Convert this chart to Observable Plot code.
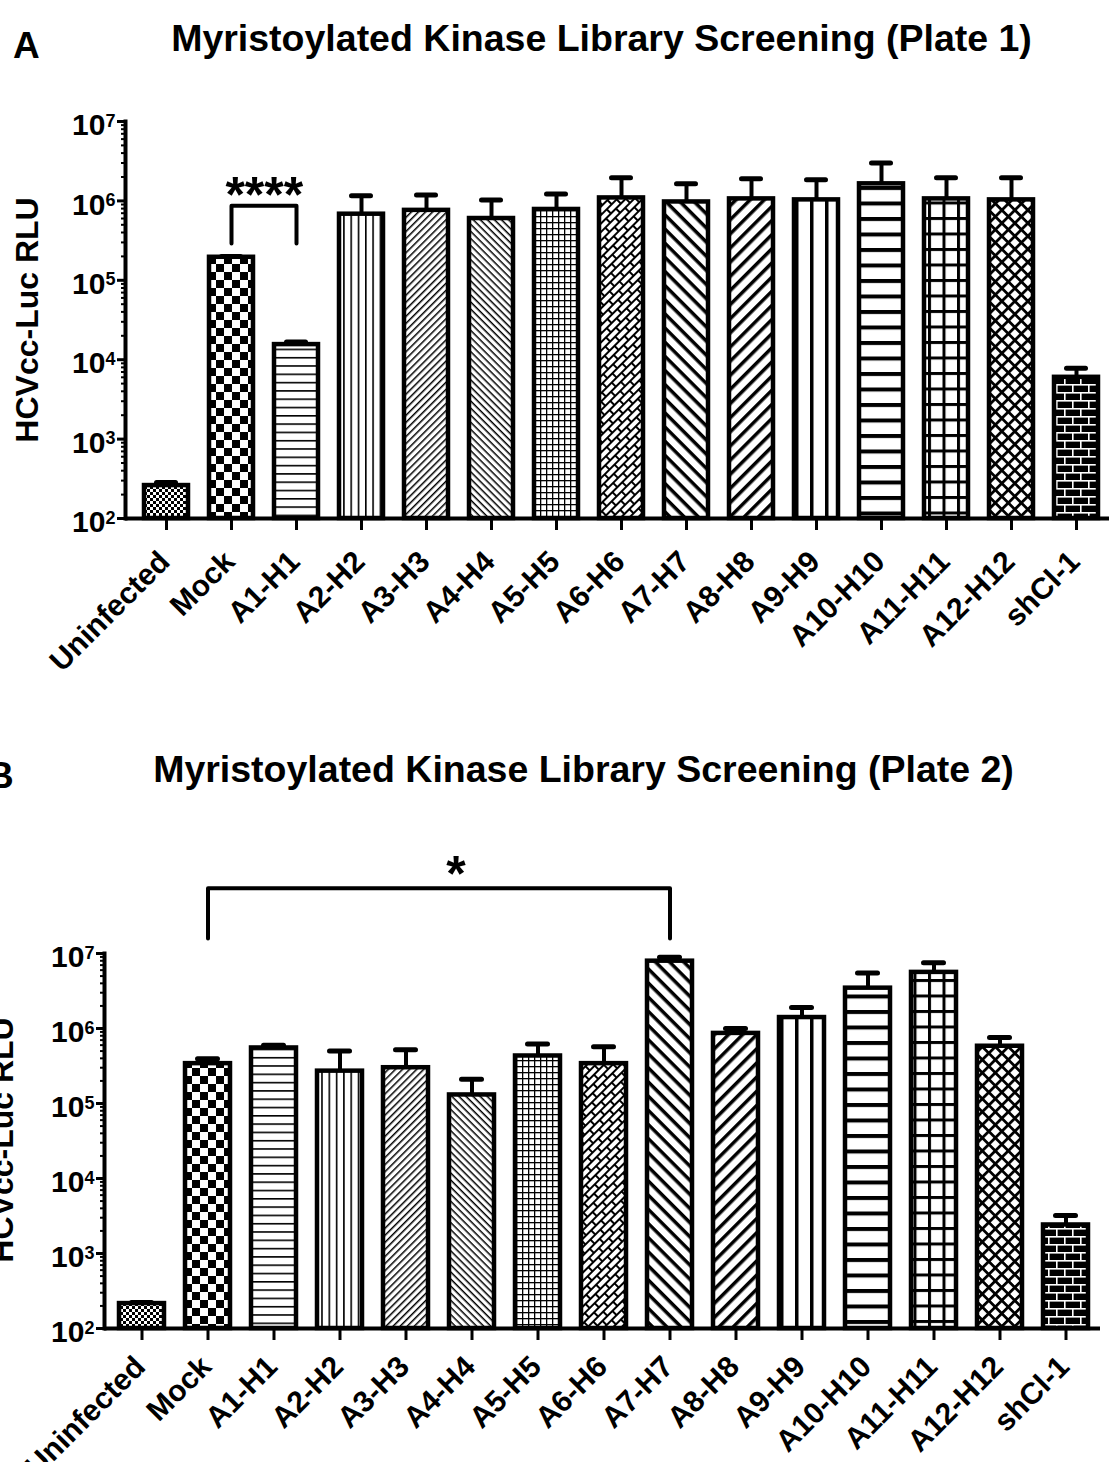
<!DOCTYPE html>
<html>
<head>
<meta charset="utf-8">
<script src="https://cdn.jsdelivr.net/npm/d3@7"></script>
<script src="https://cdn.jsdelivr.net/npm/@observablehq/plot@0.6"></script>
<style>
  html, body { margin: 0; padding: 0; background: #fff; }
  body { width: 1109px; height: 1462px; overflow: hidden; position: relative;
         font-family: "Liberation Sans", Arial, sans-serif; }
  .panel { position: absolute; left: 0; }
  #overlay { position: absolute; left: 0; top: 0; pointer-events: none; overflow: visible; }
</style>
</head>
<body>
<svg width="0" height="0" style="position:absolute">
  <defs>
    <pattern id="pFineChecker" patternUnits="userSpaceOnUse" width="6" height="6">
      <rect width="6" height="6" fill="#fff"/><rect width="3" height="3"/><rect x="3" y="3" width="3" height="3"/>
    </pattern>
    <pattern id="pChecker" patternUnits="userSpaceOnUse" width="16" height="16">
      <rect width="16" height="16" fill="#fff"/><rect width="8" height="8"/><rect x="8" y="8" width="8" height="8"/>
    </pattern>
    <pattern id="pHThin" patternUnits="userSpaceOnUse" width="8" height="8.3">
      <rect width="8" height="8.3" fill="#fff"/><rect width="8" height="1.6"/>
    </pattern>
    <pattern id="pVThin" patternUnits="userSpaceOnUse" width="7.3" height="8">
      <rect width="7.3" height="8" fill="#fff"/><rect width="1.6" height="8"/>
    </pattern>
    <pattern id="pDiagUpThin" patternUnits="userSpaceOnUse" width="10" height="5" patternTransform="rotate(-45)">
      <rect width="10" height="5" fill="#fff"/><rect width="10" height="1.5"/>
    </pattern>
    <pattern id="pDiagDownThin" patternUnits="userSpaceOnUse" width="10" height="5" patternTransform="rotate(45)">
      <rect width="10" height="5" fill="#fff"/><rect width="10" height="1.5"/>
    </pattern>
    <pattern id="pGridThin" patternUnits="userSpaceOnUse" width="6" height="6">
      <rect width="6" height="6" fill="#fff"/><rect width="6" height="1.3"/><rect width="1.3" height="6"/>
    </pattern>
    <pattern id="pDiagBrick" patternUnits="userSpaceOnUse" width="14" height="12" patternTransform="rotate(-45)">
      <rect width="14" height="12" fill="#fff"/>
      <path d="M0 1H14M0 7H14M1 1V7M8 7V13" stroke="#000" stroke-width="2" fill="none"/>
    </pattern>
    <pattern id="pDiagDownThick" patternUnits="userSpaceOnUse" width="10" height="10" patternTransform="rotate(45)">
      <rect width="10" height="10" fill="#fff"/><rect width="10" height="3.5"/>
    </pattern>
    <pattern id="pDiagUpThick" patternUnits="userSpaceOnUse" width="10" height="10" patternTransform="rotate(-45)">
      <rect width="10" height="10" fill="#fff"/><rect width="10" height="3.5"/>
    </pattern>
    <pattern id="pVThick" patternUnits="userSpaceOnUse" width="15" height="10">
      <rect width="15" height="10" fill="#fff"/><rect width="3.5" height="10"/>
    </pattern>
    <pattern id="pHThick" patternUnits="userSpaceOnUse" width="10" height="15.5">
      <rect width="10" height="15.5" fill="#fff"/><rect width="10" height="4"/>
    </pattern>
    <pattern id="pGridThick" patternUnits="userSpaceOnUse" width="14.5" height="15.5">
      <rect width="14.5" height="15.5" fill="#fff"/><rect width="14.5" height="3"/><rect width="3" height="15.5"/>
    </pattern>
    <pattern id="pDiamond" patternUnits="userSpaceOnUse" width="9.2" height="9.2" patternTransform="rotate(45)">
      <rect width="9.2" height="9.2" fill="#fff"/><rect width="9.2" height="2.8"/><rect width="2.8" height="9.2"/>
    </pattern>
    <pattern id="pBrick" patternUnits="userSpaceOnUse" width="16" height="16">
      <rect width="16" height="16" fill="#000"/>
      <rect width="16" height="1.6" fill="#fff"/><rect y="8" width="16" height="1.6" fill="#fff"/>
      <rect width="1.6" height="8" fill="#fff"/><rect x="8" y="8" width="1.6" height="8" fill="#fff"/>
    </pattern>
  </defs>
</svg>

<div id="panelA" class="panel" style="top:0px"></div>
<div id="panelB" class="panel" style="top:700px"></div>

<svg id="overlay" width="1109" height="1462" font-family="Liberation Sans, Arial, sans-serif" font-weight="bold" fill="#000">
  <text x="13" y="58" font-size="37">A</text>
  <text id="titleA" x="601.5" y="51" font-size="37.5" text-anchor="middle">Myristoylated Kinase Library Screening (Plate 1)</text>
  <text transform="translate(38,320) rotate(-90)" font-size="32" text-anchor="middle">HCVcc-Luc RLU</text>
  <text x="-13" y="788" font-size="37">B</text>
  <text id="titleB" x="583.5" y="782" font-size="37.5" text-anchor="middle">Myristoylated Kinase Library Screening (Plate 2)</text>
  <text transform="translate(13,1140) rotate(-90)" font-size="32" text-anchor="middle">HCVcc-Luc RLU</text>
</svg>

<script>
// ---------- data ----------
const categories = ["Uninfected", "Mock", "A1-H1", "A2-H2", "A3-H3", "A4-H4", "A5-H5", "A6-H6",
  "A7-H7", "A8-H8", "A9-H9", "A10-H10", "A11-H11", "A12-H12", "shCl-1"];

// Plate 1: mean RLU and upper error (SEM)
const plate1Mean = [260, 195000, 15500, 680000, 760000, 600000, 780000, 1090000,
  970000, 1060000, 1030000, 1640000, 1060000, 1030000, 6000];
const plate1Err = [25, 5000, 1200, 480000, 430000, 430000, 440000, 860000,
  670000, 840000, 810000, 1360000, 890000, 920000, 1800];

// Plate 2
const plate2Mean = [215, 340000, 550000, 270000, 300000, 130000, 430000, 340000,
  7900000, 860000, 1400000, 3450000, 5600000, 580000, 2400];
const plate2Err = [8, 55000, 50000, 230000, 220000, 80000, 190000, 230000,
  1000000, 140000, 500000, 2050000, 1900000, 180000, 800];

const yMajorTicks = [1e2, 1e3, 1e4, 1e5, 1e6, 1e7];

// significance annotations (data units)
const sig1 = {from: "Mock", to: "A1-H1", legBottom: 2.9e5, top: 8.7e5, label: "****", labelY: 1.15e6};
const sig2 = {from: "Mock", to: "A7-H7", legBottom: 1.58e7, top: 7.4e7, label: "*", labelY: 1.1e8};

// ---------- style mapping ----------
const patternIds = ["pFineChecker", "pChecker", "pHThin", "pVThin", "pDiagUpThin", "pDiagDownThin",
  "pGridThin", "pDiagBrick", "pDiagDownThick", "pDiagUpThick", "pVThick", "pHThick",
  "pGridThick", "pDiamond", "pBrick"];

const yMinorTicks = [];
for (const m of yMajorTicks.slice(0, -1)) for (let k = 2; k <= 9; k++) yMinorTicks.push(m * k);

function panel(cfg) {
  const rows = categories.map((c, i) => ({cat: c, mean: cfg.mean[i], err: cfg.err[i], fill: `url(#${patternIds[i]})`}));
  const n = categories.length;
  const step = (cfg.xRange[1] - cfg.xRange[0]) / n;
  const br = cfg.sig;
  const bracket = [
    {x: br.from, y: br.legBottom}, {x: br.from, y: br.top},
    {x: br.to, y: br.top}, {x: br.to, y: br.legBottom}
  ];
  const midDx = (categories.indexOf(br.to) - categories.indexOf(br.from)) / 2 * step + cfg.sigDx;
  const svg = Plot.plot({
    width: 1109,
    height: cfg.height,
    marginLeft: cfg.marginLeft,
    marginRight: cfg.marginRight,
    marginTop: cfg.marginTop,
    marginBottom: cfg.marginBottom,
    style: {fontFamily: "Liberation Sans, Arial, sans-serif", fontWeight: "bold", background: "transparent", overflow: "visible", color: "#000"},
    x: {type: "band", domain: categories, range: cfg.xRange, paddingInner: 0.32, paddingOuter: 0.16},
    y: {type: "log", domain: [1e2, 1e7]},
    color: {type: "identity"},
    marks: [
      Plot.ruleX(rows, {x: "cat", y1: "mean", y2: d => d.mean + d.err, stroke: "#000", strokeWidth: 4}),
      Plot.tickY(rows, {x: "cat", y: d => d.mean + d.err, stroke: "#000", strokeWidth: 5, strokeLinecap: "round", insetLeft: 12.5, insetRight: 12.5}),
      Plot.barY(rows, {x: "cat", y1: 100, y2: "mean", fill: "fill", stroke: "#000", strokeWidth: 4.5}),
      Plot.ruleY([100], {stroke: "#000", strokeWidth: 4}),
      Plot.frame({anchor: "left", stroke: "#000", strokeWidth: 4}),
      Plot.axisY({ticks: yMinorTicks, tickSize: 4, tickFormat: () => "", strokeWidth: 2, label: null}),
      Plot.axisY({ticks: yMajorTicks, tickSize: 8, tickPadding: 2, tickFormat: d => "10|" + Math.round(Math.log10(d)),
        fontSize: 30, fontWeight: "bold", strokeWidth: 3, label: null}),
      Plot.axisX({tickSize: 12, tickFormat: () => "", strokeWidth: 3, label: null}),
      Plot.text(categories, {x: d => d, text: d => d, frameAnchor: "bottom", rotate: -45, textAnchor: "end",
        lineAnchor: "bottom", dx: 5, dy: cfg.labelDy, fontSize: 30, fontWeight: "bold", fill: "#000"}),
      Plot.line(bracket, {x: "x", y: "y", stroke: "#000", strokeWidth: 4, strokeLinejoin: "round", curve: "linear"}),
      Plot.text([br], {x: "from", y: "labelY", text: "label", dx: midDx, fontSize: 50, fontWeight: "bold", fill: "#000", ariaLabel: "significance"})
    ]
  });
  // superscript exponents
  const ns = "http://www.w3.org/2000/svg";
  svg.querySelectorAll('g[aria-label="y-axis tick label"] text').forEach(t => {
    const s = t.textContent;
    if (!s.includes("|")) return;
    const [base, exp] = s.split("|");
    t.textContent = "";
    const a = document.createElementNS(ns, "tspan");
    a.textContent = base;
    a.setAttribute("dy", "4");
    const b = document.createElementNS(ns, "tspan");
    b.textContent = exp;
    b.setAttribute("font-size", "18");
    b.setAttribute("dy", "-8.6");
    t.append(a, b);
  });
  svg.querySelectorAll('g[aria-label="significance"] text').forEach(t => {
    t.style.letterSpacing = cfg.sigSpacing;
  });
  return svg;
}

document.getElementById("panelA").append(panel({
  mean: plate1Mean, err: plate1Err, sig: sig1, sigDx: 0, sigSpacing: "9px",
  height: 700, marginTop: 121, marginBottom: 182, marginLeft: 125, marginRight: 0,
  xRange: [129, 1113], labelDy: 45
}));

document.getElementById("panelB").append(panel({
  mean: plate2Mean, err: plate2Err, sig: sig2, sigDx: 15, sigSpacing: "0px",
  height: 762, marginTop: 253, marginBottom: 134, marginLeft: 104, marginRight: 9,
  xRange: [104, 1102], labelDy: 40
}));
</script>
</body>
</html>
